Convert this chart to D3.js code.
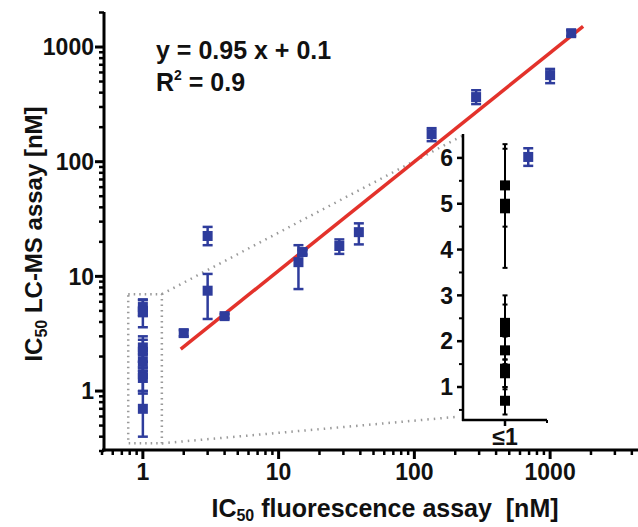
<!DOCTYPE html>
<html>
<head>
<meta charset="utf-8">
<script src="https://cdn.jsdelivr.net/npm/d3@7"></script>
<style>
  body { margin: 0; background: #fff; }
  text { font-family: "Liberation Sans", Arial, sans-serif; font-weight: bold; fill: #111; }
</style>
</head>
<body>
<svg width="638" height="527"></svg>
<script>
// main scatter: IC50 fluorescence (x) vs IC50 LC-MS (y), nM
const mainX  = [2,   3,    3,    4,   14,   15,   28,   39,   134, 285, 690, 1000, 1430];
const mainY  = [3.2, 22.5, 7.5,  4.5, 13.3, 16.3, 18.4, 24.3, 174, 366, 110, 569,  1320];
const mainLo = [3.0, 18.7, 4.25, 4.3, 7.75, 15.5, 15.7, 19,   151, 318, 92,  484,  1250];
const mainHi = [3.4, 27,   10.5, 4.7, 18.7, 17,   21,   29,   196, 420, 131, 644,  1400];

// compounds with fluorescence IC50 <= 1 nM (drawn at x = 1 and in the inset)
const lowX  = 1;
const lowY  = [5.4, 5.0, 4.9, 2.4, 2.2, 1.8, 1.4, 1.3, 0.7];
const lowLo = [4.5, 5.0, 3.6, 1.8, 1.6, 1.5, 1.0, 0.95, 0.4];
const lowHi = [6.3, 5.0, 6.2, 3.0, 2.8, 2.1, 1.8, 1.6, 1.0];

// regression in log space: log y = 0.95 log x + 0.1
const fitSlope = 0.95;
const fitIntercept = 0.1;
const fitRange = [1.9, 1750];

const xTicks = [1, 10, 100, 1000];
const yTicks = [1, 10, 100, 1000];
const insetTicks = [1, 2, 3, 4, 5, 6];
const insetCategory = ["≤1"];
const zoomBox = { x: [0.78, 1.38], y: [0.35, 7] };

const BLUE = "#2E3C9C";
const RED = "#E3322B";
const GREY = "#9a9a9a";

const svg = d3.select("svg");

const x = d3.scaleLog().domain([0.5, 5000]).range([102, 645]);
const y = d3.scaleLog().domain([0.3, 2000]).range([451, 12.5]);

function minorTicks(lo, hi) {
  let out = [];
  for (let e = -1; e <= 3; e++) {
    for (let m = 1; m <= 9; m++) {
      let v = m * Math.pow(10, e);
      if (m > 1 && v >= lo - 1e-9 && v <= hi + 1e-9) out.push(+v.toPrecision(3));
    }
  }
  return out;
}

// ---- axes
const xAxisY = 450;
const yAxisX = 104;

let gx = svg.append("g").attr("transform", `translate(0,${xAxisY})`);
gx.append("line").attr("x1", 102).attr("x2", 640).attr("stroke", "#000").attr("stroke-width", 3);
gx.selectAll("line.minor").data(minorTicks(0.5, 4000)).enter().append("line")
  .attr("class", "minor")
  .attr("x1", d => x(d)).attr("x2", d => x(d))
  .attr("y1", 0).attr("y2", 5)
  .attr("stroke", "#000").attr("stroke-width", 2.5);
gx.selectAll("line.major").data(xTicks).enter().append("line")
  .attr("class", "major")
  .attr("x1", d => x(d)).attr("x2", d => x(d))
  .attr("y1", 0).attr("y2", 9)
  .attr("stroke", "#000").attr("stroke-width", 3);
gx.selectAll("text").data(xTicks).enter().append("text")
  .attr("x", d => x(d)).attr("y", 30)
  .attr("text-anchor", "middle")
  .style("font-size", "23px")
  .text(d => d);

let gy = svg.append("g").attr("transform", `translate(${yAxisX},0)`);
gy.append("line").attr("y1", 12).attr("y2", 451.5).attr("stroke", "#000").attr("stroke-width", 3);
gy.selectAll("line.minor").data(minorTicks(0.3, 2000)).enter().append("line")
  .attr("class", "minor")
  .attr("y1", d => y(d)).attr("y2", d => y(d))
  .attr("x1", 0).attr("x2", -5)
  .attr("stroke", "#000").attr("stroke-width", 2.5);
gy.selectAll("line.major").data(yTicks).enter().append("line")
  .attr("class", "major")
  .attr("y1", d => y(d)).attr("y2", d => y(d))
  .attr("x1", 0).attr("x2", -9)
  .attr("stroke", "#000").attr("stroke-width", 3);
gy.selectAll("text").data(yTicks).enter().append("text")
  .attr("x", -10).attr("y", d => y(d))
  .attr("dy", "0.36em")
  .attr("text-anchor", "end")
  .style("font-size", "23px")
  .text(d => d);

// axis titles
let xt = svg.append("text")
  .attr("x", 385).attr("y", 517)
  .attr("text-anchor", "middle")
  .style("font-size", "25px");
xt.append("tspan").text("IC");
xt.append("tspan").attr("dy", 4).style("font-size", "16px").text("50");
xt.append("tspan").attr("dy", -4).text(" fluorescence assay \u00a0[nM]");

let yt = svg.append("text")
  .attr("transform", "translate(42,234) rotate(-90)")
  .attr("text-anchor", "middle")
  .style("font-size", "24px");
yt.append("tspan").text("IC");
yt.append("tspan").attr("dy", 5).style("font-size", "16px").text("50");
yt.append("tspan").attr("dy", -5).text(" LC-MS assay [nM]");

// ---- inset
const ix0 = 463, ix1 = 547, iy0 = 420;
const iy = d3.scaleLinear().domain([0.28, 6.5]).range([420, 135]);
const ix = d3.scalePoint().domain(insetCategory).range([ix0, ix1]).padding(0.5);

// zoom indication
svg.append("rect")
  .attr("x", x(zoomBox.x[0])).attr("y", y(zoomBox.y[1]))
  .attr("width", x(zoomBox.x[1]) - x(zoomBox.x[0]))
  .attr("height", y(zoomBox.y[0]) - y(zoomBox.y[1]))
  .attr("fill", "none").attr("stroke", GREY)
  .attr("stroke-width", 2.5).attr("stroke-dasharray", "1.5,4");
svg.append("line")
  .attr("x1", x(zoomBox.x[1])).attr("y1", y(zoomBox.y[1]))
  .attr("x2", ix0 - 1).attr("y2", iy(6.5) + 1)
  .attr("stroke", GREY).attr("stroke-width", 2.5).attr("stroke-dasharray", "1.5,5");
svg.append("line")
  .attr("x1", x(zoomBox.x[1])).attr("y1", y(zoomBox.y[0]))
  .attr("x2", ix0 - 8).attr("y2", iy0 - 3)
  .attr("stroke", GREY).attr("stroke-width", 2.5).attr("stroke-dasharray", "1.5,5");

// ---- regression line
const fitLine = d3.line()
  .x(d => x(d))
  .y(d => y(Math.pow(10, fitSlope * Math.log10(d) + fitIntercept)));
svg.append("path")
  .attr("d", fitLine(fitRange))
  .attr("fill", "none")
  .attr("stroke", RED)
  .attr("stroke-width", 3.5);

// ---- error bars + squares
function drawBars(g, data, sx, sy, color, capW, sw, size) {
  let eb = g.append("g").selectAll("g").data(data).enter().append("g");
  eb.append("line")
    .attr("x1", d => sx(d.x)).attr("x2", d => sx(d.x))
    .attr("y1", d => sy(d.lo)).attr("y2", d => sy(d.hi))
    .attr("stroke", color).attr("stroke-width", sw);
  eb.filter(d => d.hi > d.lo).append("line")
    .attr("x1", d => sx(d.x) - capW / 2).attr("x2", d => sx(d.x) + capW / 2)
    .attr("y1", d => sy(d.lo)).attr("y2", d => sy(d.lo))
    .attr("stroke", color).attr("stroke-width", sw);
  eb.filter(d => d.hi > d.lo).append("line")
    .attr("x1", d => sx(d.x) - capW / 2).attr("x2", d => sx(d.x) + capW / 2)
    .attr("y1", d => sy(d.hi)).attr("y2", d => sy(d.hi))
    .attr("stroke", color).attr("stroke-width", sw);
  g.append("g").selectAll("rect").data(data).enter().append("rect")
    .attr("x", d => sx(d.x) - size / 2)
    .attr("y", d => sy(d.y) - size / 2)
    .attr("width", size).attr("height", size)
    .attr("fill", color);
}

const mainData = mainX.map((v, i) => ({ x: v, y: mainY[i], lo: mainLo[i], hi: mainHi[i] }));
const lowData = lowY.map((v, i) => ({ x: lowX, y: v, lo: lowLo[i], hi: lowHi[i] }));

// inset axes
let gi = svg.append("g");
gi.append("line").attr("x1", ix0).attr("x2", ix0).attr("y1", 134).attr("y2", iy0 + 1)
  .attr("stroke", "#000").attr("stroke-width", 2.5);
gi.append("line").attr("x1", ix0 - 1).attr("x2", ix1).attr("y1", iy0).attr("y2", iy0)
  .attr("stroke", "#000").attr("stroke-width", 2.5);
gi.append("line").attr("x1", ix1).attr("x2", ix1).attr("y1", iy0).attr("y2", iy0 + 3)
  .attr("stroke", "#000").attr("stroke-width", 2);
gi.selectAll("line.minor").data(d3.range(0.5, 6.01, 1)).enter().append("line")
  .attr("class", "minor")
  .attr("x1", ix0).attr("x2", ix0 - 4)
  .attr("y1", d => iy(d)).attr("y2", d => iy(d))
  .attr("stroke", "#000").attr("stroke-width", 2);
gi.selectAll("line.major").data(insetTicks).enter().append("line")
  .attr("class", "major")
  .attr("x1", ix0).attr("x2", ix0 - 6)
  .attr("y1", d => iy(d)).attr("y2", d => iy(d))
  .attr("stroke", "#000").attr("stroke-width", 2.5);
gi.selectAll("text.tick").data(insetTicks).enter().append("text")
  .attr("class", "tick")
  .attr("x", ix0 - 10).attr("y", d => iy(d))
  .attr("dy", "0.36em")
  .attr("text-anchor", "end")
  .style("font-size", "23px")
  .text(d => d);
gi.append("line")
  .attr("x1", ix(insetCategory[0])).attr("x2", ix(insetCategory[0]))
  .attr("y1", iy0).attr("y2", iy0 + 6)
  .attr("stroke", "#000").attr("stroke-width", 2.5);
gi.append("text")
  .attr("x", ix(insetCategory[0])).attr("y", iy0 + 25)
  .attr("text-anchor", "middle")
  .style("font-size", "23px")
  .text(insetCategory[0]);

drawBars(svg.append("g"), mainData.concat(lowData), x, y, BLUE, 10, 2.5, 10);
drawBars(svg.append("g"), lowData, () => ix(insetCategory[0]), iy, "#000", 5, 2, 10);

// ---- equation
svg.append("text").attr("x", 156).attr("y", 59).style("font-size", "25px")
  .text("y = 0.95 x + 0.1");
let r2 = svg.append("text").attr("x", 156).attr("y", 91).style("font-size", "25px");
r2.append("tspan").text("R");
r2.append("tspan").attr("dy", -11).style("font-size", "14px").text("2");
r2.append("tspan").attr("dy", 11).text(" = 0.9");
</script>
</body>
</html>
